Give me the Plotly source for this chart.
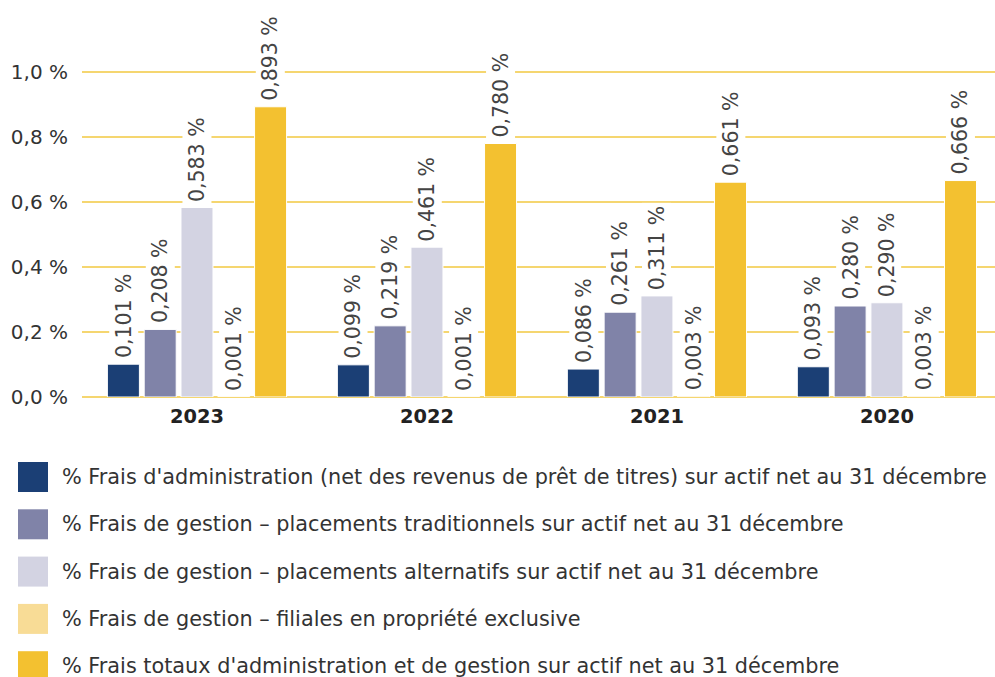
import plotly.graph_objects as go

years = ["2023", "2022", "2021", "2020"]
series_names = [
    "% Frais d'administration (net des revenus de prêt de titres) sur actif net au 31 décembre",
    "% Frais de gestion – placements traditionnels sur actif net au 31 décembre",
    "% Frais de gestion – placements alternatifs sur actif net au 31 décembre",
    "% Frais de gestion – filiales en propriété exclusive",
    "% Frais totaux d'administration et de gestion sur actif net au 31 décembre",
]
admin = [0.101, 0.099, 0.086, 0.093]
gestion_trad = [0.208, 0.219, 0.261, 0.280]
gestion_alt = [0.583, 0.461, 0.311, 0.290]
filiales = [0.001, 0.001, 0.003, 0.003]
totaux = [0.893, 0.780, 0.661, 0.666]
series_values = [admin, gestion_trad, gestion_alt, filiales, totaux]
colors = ["#1b3f75", "#8083a8", "#d3d3e2", "#f8dc96", "#f3c130"]

tick_vals = [0.0, 0.2, 0.4, 0.6, 0.8, 1.0]
tick_text = ["0,0 %", "0,2 %", "0,4 %", "0,6 %", "0,8 %", "1,0 %"]

FONT = "DejaVu Sans"
BARGAP = 0.2
GROUPGAP = 0.13
n_series = len(series_values)
slot = (1 - BARGAP) / n_series

fig = go.Figure()
annotations = []
for si, (name, vals, col) in enumerate(zip(series_names, series_values, colors)):
    fig.add_trace(go.Bar(
        x=years, y=vals, name=name,
        marker=dict(color=col, line=dict(color="white", width=1)),
        showlegend=False, hoverinfo="y",
    ))
    for ci, v in enumerate(vals):
        annotations.append(dict(
            xref="x", yref="y", x=ci + (si - (n_series - 1) / 2) * slot, y=v,
            text=f"{v:.3f} %".replace(".", ","), textangle=-90, showarrow=False,
            xanchor="center", yanchor="bottom", yshift=3,
            bgcolor="white", borderpad=2,
            font=dict(family=FONT, size=20.5, color="#444444"),
        ))

W, H = 995, 677
ml, mt, mb, mr = 82, 7, 280, 0
pw = W - ml - mr
ph = H - mt - mb

def px2paper_x(px):
    return (px - ml) / pw

def px2paper_y(py):
    return (H - mb - py) / ph

shapes = []
row0, step = 477, 47.3
for i, (name, col) in enumerate(zip(series_names, colors)):
    cy = row0 + i * step
    shapes.append(dict(type="rect", xref="paper", yref="paper",
                       x0=px2paper_x(18), x1=px2paper_x(48),
                       y0=px2paper_y(cy + 15), y1=px2paper_y(cy - 15),
                       fillcolor=col, line=dict(width=0)))
    annotations.append(dict(xref="paper", yref="paper", x=px2paper_x(60), y=px2paper_y(cy),
                            text=name, showarrow=False, xanchor="left", yanchor="middle",
                            font=dict(family=FONT, size=20.8, color="#333333")))

fig.update_layout(
    width=W, height=H,
    margin=dict(l=ml, r=mr, t=mt, b=mb, pad=0),
    paper_bgcolor="white", plot_bgcolor="white",
    barmode="group", bargap=BARGAP, bargroupgap=GROUPGAP,
    font=dict(family=FONT, color="#333333"),
    xaxis=dict(type="category", range=[-0.5, 3.47], showgrid=False, showline=False,
               ticks="", tickfont=dict(family=FONT, size=19.4, color="#222222", weight="bold"),
               ticklabelstandoff=6),
    yaxis=dict(range=[0, 1.2], tickvals=tick_vals, ticktext=tick_text,
               showgrid=True, gridcolor="#f5d670", gridwidth=2,
               zeroline=True, zerolinecolor="#f5d670", zerolinewidth=2,
               showline=False, ticks="", ticklabelstandoff=13,
               tickfont=dict(family=FONT, size=20, color="#333333")),
    shapes=shapes, annotations=annotations,
)

fig.write_html("out.html")
